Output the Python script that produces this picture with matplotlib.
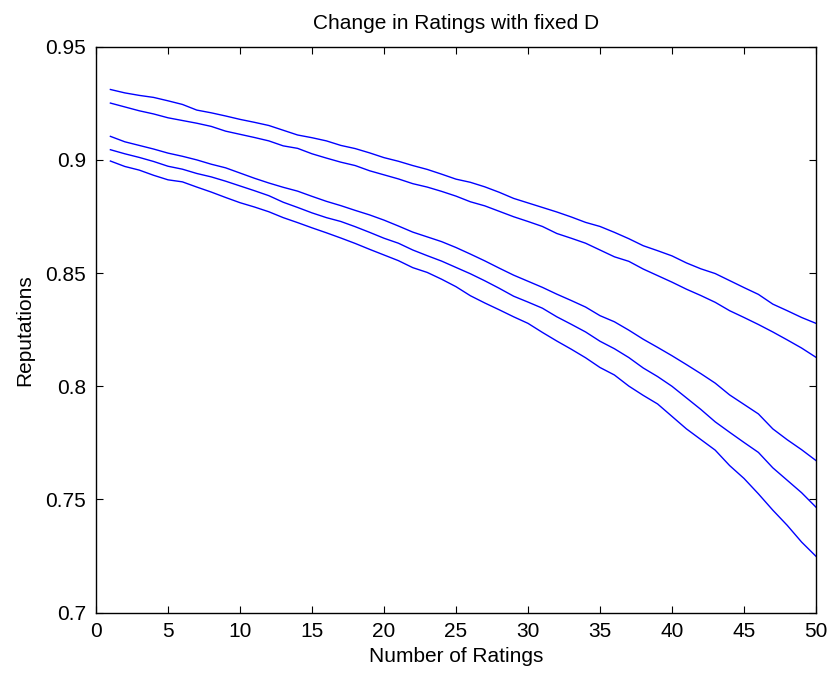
import numpy as np
import matplotlib
matplotlib.use('Agg')
import matplotlib.pyplot as plt

# ratings count on the x axis
num_ratings = np.arange(1, 51)

# reputations, one list per curve (top to bottom)
rep_1 = [0.9311, 0.9296, 0.9285, 0.9276, 0.9261, 0.9245, 0.9220, 0.9208, 0.9194, 0.9179,
         0.9166, 0.9152, 0.9131, 0.9110, 0.9098, 0.9084, 0.9064, 0.9050, 0.9031, 0.9010,
         0.8994, 0.8975, 0.8958, 0.8937, 0.8915, 0.8901, 0.8881, 0.8857, 0.8830, 0.8810,
         0.8790, 0.8770, 0.8748, 0.8724, 0.8706, 0.8680, 0.8652, 0.8621, 0.8599, 0.8576,
         0.8545, 0.8519, 0.8498, 0.8467, 0.8436, 0.8406, 0.8363, 0.8334, 0.8304, 0.8278]
rep_2 = [0.9251, 0.9234, 0.9217, 0.9203, 0.9186, 0.9174, 0.9162, 0.9148, 0.9127, 0.9113,
         0.9099, 0.9084, 0.9062, 0.9051, 0.9027, 0.9008, 0.8990, 0.8975, 0.8952, 0.8934,
         0.8916, 0.8895, 0.8880, 0.8861, 0.8840, 0.8815, 0.8797, 0.8773, 0.8749, 0.8728,
         0.8706, 0.8675, 0.8654, 0.8632, 0.8602, 0.8572, 0.8552, 0.8518, 0.8489, 0.8460,
         0.8429, 0.8401, 0.8371, 0.8334, 0.8304, 0.8273, 0.8240, 0.8205, 0.8169, 0.8128]
rep_3 = [0.9104, 0.9080, 0.9064, 0.9048, 0.9030, 0.9016, 0.9000, 0.8981, 0.8965, 0.8942,
         0.8919, 0.8898, 0.8879, 0.8862, 0.8839, 0.8817, 0.8798, 0.8777, 0.8757, 0.8734,
         0.8708, 0.8681, 0.8660, 0.8639, 0.8613, 0.8584, 0.8554, 0.8522, 0.8491, 0.8464,
         0.8437, 0.8407, 0.8379, 0.8350, 0.8312, 0.8285, 0.8248, 0.8208, 0.8172, 0.8135,
         0.8096, 0.8056, 0.8014, 0.7962, 0.7920, 0.7878, 0.7812, 0.7764, 0.7720, 0.7672]
rep_4 = [0.9045, 0.9027, 0.9011, 0.8993, 0.8972, 0.8959, 0.8940, 0.8925, 0.8906, 0.8885,
         0.8864, 0.8842, 0.8813, 0.8790, 0.8766, 0.8745, 0.8728, 0.8705, 0.8680, 0.8654,
         0.8632, 0.8602, 0.8577, 0.8553, 0.8525, 0.8497, 0.8466, 0.8433, 0.8398, 0.8372,
         0.8345, 0.8307, 0.8274, 0.8240, 0.8199, 0.8166, 0.8127, 0.8081, 0.8043, 0.8000,
         0.7949, 0.7898, 0.7843, 0.7797, 0.7752, 0.7708, 0.7640, 0.7585, 0.7530, 0.7466]
rep_5 = [0.8995, 0.8971, 0.8955, 0.8932, 0.8912, 0.8903, 0.8880, 0.8858, 0.8834, 0.8811,
         0.8792, 0.8771, 0.8745, 0.8723, 0.8700, 0.8678, 0.8655, 0.8631, 0.8605, 0.8580,
         0.8555, 0.8524, 0.8503, 0.8473, 0.8440, 0.8400, 0.8368, 0.8338, 0.8307, 0.8278,
         0.8238, 0.8200, 0.8164, 0.8126, 0.8083, 0.8050, 0.8001, 0.7960, 0.7922, 0.7867,
         0.7812, 0.7765, 0.7718, 0.7650, 0.7593, 0.7525, 0.7453, 0.7386, 0.7312, 0.7249]

x_ticks = [0, 5, 10, 15, 20, 25, 30, 35, 40, 45, 50]
y_ticks = [0.7, 0.75, 0.8, 0.85, 0.9, 0.95]
y_tick_labels = ['0.7', '0.75', '0.8', '0.85', '0.9', '0.95']

plt.rcParams['font.family'] = ['Liberation Sans', 'DejaVu Sans']
plt.rcParams['font.size'] = 15

fig = plt.figure(figsize=(8.29, 6.73), dpi=100)
ax = fig.add_axes([96 / 829, 60.3 / 673, 720 / 829, 566 / 673])

for rep in [rep_1, rep_2, rep_3, rep_4, rep_5]:
    ax.plot(num_ratings, rep, color='#0000ff', linewidth=1.0)

ax.set_xlim(0, 50)
ax.set_ylim(0.7, 0.95)
ax.set_xticks(x_ticks)
ax.set_yticks(y_ticks)
ax.set_yticklabels(y_tick_labels)

# matlab style box with inward ticks on all sides
ax.tick_params(direction='in', length=5, width=0.8, top=True, right=True, pad=7)
for s in ax.spines.values():
    s.set_linewidth(1.0)

ax.set_title('Change in Ratings with fixed D', fontsize=15, pad=13)
ax.set_xlabel('Number of Ratings', fontsize=15, labelpad=4)
ax.set_ylabel('Reputations', fontsize=15, labelpad=8)

plt.savefig('out.png', dpi=100)
plt.close()
